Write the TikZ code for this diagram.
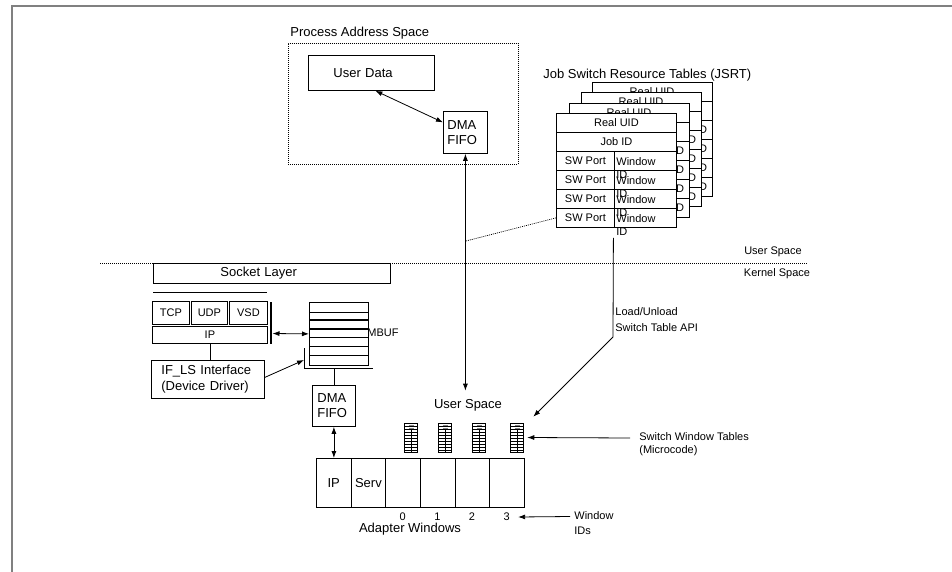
\documentclass[tikz,border=0pt]{standalone}
\usepackage{fontspec}
\setmainfont{Liberation Sans}
\usetikzlibrary{arrows.meta}
\newcommand\fbig{\fontsize{13}{15}\selectfont}
\newcommand\fsmall{\fontsize{11}{13.5}\selectfont}
\begin{document}
\begin{tikzpicture}[x=1pt,y=-1pt,line width=0.8pt,
  box/.style={draw,inner sep=0pt,anchor=north west,font=\fbig},
  txt/.style={inner sep=0pt,font=\fbig},
  stxt/.style={inner sep=0pt,font=\fsmall},
  icon/.style={draw,line width=0.5pt,inner sep=0pt,minimum width=13pt,minimum height=29pt},
  arr/.style={-{Latex[length=7pt,width=5pt]}},
  darr/.style={{Latex[length=7pt,width=5pt]}-{Latex[length=7pt,width=5pt]}},
  dotline/.style={line width=0.7pt,dash pattern=on 1pt off 1pt}]
\useasboundingbox (0,0) rectangle (952,572);
% frame
\draw[line width=2pt,black!50] (12,572) -- (12,6) -- (952,6);

% Process address space
\node[txt,anchor=west] (paslbl) at (290,33) {Process Address Space};
\node[box,dotline,minimum width=230pt,minimum height=121pt] (pas) at (288,43) {};
\node[box,minimum width=126pt,minimum height=35pt,text width=76pt,inner xsep=25pt,align=left] (udata) at (308,55) {User Data};
\node[box,minimum width=44pt,minimum height=42pt,text width=36pt,inner xsep=4pt,align=left] (dma1) at (443,111) {DMA\\FIFO};
\draw[darr] ([xshift=4pt]udata.south) -- ([yshift=10pt]dma1.west);

% lower user space
\node[txt] (us2) at (468,405) {User Space};
\coordinate (ust) at ([yshift=8pt]us2.north);
\draw[darr] (dma1.south) -- (dma1.south |- ust);

% JSRT
\node[txt,anchor=west] (jsrtlbl) at (543,75) {Job Switch Resource Tables (JSRT)};
\foreach \x/\y/\n in {592/82/4,581/92/3,569/103/2}{
  \draw[fill=white] (\x,\y) rectangle ++(120,114);
  \foreach \k in {1,...,5} \draw (\x,{\y+19*\k}) -- ++(120,0);
  \draw ({\x+58},{\y+38}) -- ({\x+58},{\y+114});
  \node[stxt] (b\n-ru) at ({\x+60},{\y+9.5}) {Real UID};
  \node[stxt] (b\n-jid) at ({\x+60},{\y+28.5}) {Job ID};
  \foreach \k in {0,...,3}{
    \node[stxt] (b\n-sw\k) at ({\x+29},{\y+47.5+19*\k}) {SW Port};
    \node[stxt,anchor=east] (b\n-wi\k) at ({\x+115.5},{\y+47.5+19*\k}) {Window ID};
  }
}
\node[box,fill=white,minimum width=120pt,minimum height=114pt] (t1) at (556,113) {};
\node[box,font=\fsmall,minimum width=120pt,minimum height=19pt] (r1) at (556,113) {Real UID};
\node[box,font=\fsmall,minimum width=120pt,minimum height=19pt] (r2) at (556,132) {Job ID};
\foreach \k in {1,...,4}{
  \node[box,font=\fsmall,minimum width=58pt,minimum height=19pt] (sw\k) at (556,{132+19*\k}) {SW Port};
  \node[box,minimum width=62pt,minimum height=19pt] (wc\k) at (614,{132+19*\k}) {};
}
\foreach \k in {1,...,4}
  \node[stxt,anchor=north west,align=left] (wi\k) at (616,{138+19*\k}) {Window\\ID};

% dotted connector
\coordinate (dj) at (466,241);
\draw[dotline] (sw4.west) -- (dj);

% user/kernel
\node[stxt] (uslbl) at (773,252) {User Space};
\node[stxt] (kslbl) at (777,274) {Kernel Space};
\draw[dotline] (100,263) -- (807,263);

% socket side
\node[box,minimum width=237pt,minimum height=20pt,text width=103pt,inner xsep=67pt,align=left] (sock) at (153,263) {Socket Layer};
\draw (153,292) -- (267,292);
\node[box,font=\fsmall,minimum width=37pt,minimum height=23pt] (tcp) at (152,301) {TCP};
\node[box,font=\fsmall,minimum width=36pt,minimum height=23pt] (udp) at (191,301) {UDP};
\node[box,font=\fsmall,minimum width=38pt,minimum height=23pt] (vsd) at (229,301) {VSD};
\node[box,font=\fsmall,minimum width=115pt,minimum height=17pt] (ip1) at (152,326) {IP};
\draw[line width=1.2pt] (271,302) -- (271,344);
\coordinate (vb) at (272.5,333.5);
\node[box,minimum width=59pt,minimum height=63pt] (mbuf) at (309,302) {};
\foreach \yy in {312,337,346,355} \draw (309,\yy) -- (368,\yy);
\foreach \yy in {320,329} \draw[line width=1.3pt] (309,\yy) -- (368,\yy);
\node[stxt,anchor=west] (mbuflbl) at (367,333) {MBUF};
\draw[darr] (vb) -- (mbuf.west);
\draw (304,348) -- (304,368) -- (373,368);
\coordinate (brk) at (304,360);
\coordinate (brb) at (334,368);
\node[box,minimum width=113pt,minimum height=38pt,text width=93pt,inner xsep=10pt,align=left,font=\fontsize{13}{16}\selectfont] (ifls) at (151,360) {IF\_LS Interface\\(Device Driver)};
\draw (ip1.south) -- (ip1.south |- ifls.north);
\draw[arr] ([yshift=2pt]ifls.east) -- (brk);
\node[box,minimum width=43pt,minimum height=41pt,text width=33pt,inner xsep=5pt,align=left] (dma2) at (312,385) {DMA\\FIFO};
\draw (brb) -- (brb |- dma2.north);

% adapter windows
\foreach \i/\t in {0/IP,1/Serv,2/,3/,4/,5/}
  \node[box,minimum width=34.67pt,minimum height=49pt] (aw\i) at ({316+34.67*\i},458) {\t};
\draw[darr] (dma2.south) -- (dma2.south |- aw0.north);
\foreach \i/\n in {2/0,3/1,4/2,5/3}
  \node[stxt] (num\n) at ({316+34.67*\i+17.3},517) {\n};
\node[txt] (awlbl) at (410,529) {Adapter Windows};

% switch window table icons
\foreach \cx [count=\i] in {411,445,479,517}{
  \node[icon] (ic\i) at (\cx,437.5) {};
  \draw[line width=0.4pt] ({\cx-6.5},426.5) -- ++(13,0) ({\cx-6.5},429.5) -- ++(13,0);
  \draw[line width=0.4pt] (\cx,429.5) -- (\cx,452);
  \foreach \yy in {432.5,435.5,438.5,441.5,444.5,447.5,450}
    \draw[line width=0.4pt] ({\cx-6.5},\yy) -- ++(13,0);
  \draw[line width=0.3pt,black!50] ({\cx-2.5},425) -- ++(5,0) ({\cx-2.5},428) -- ++(5,0);
}

% load/unload
\coordinate (lub) at (613,337);
\draw[arr] ([xshift=-3pt,yshift=-10pt]t1.south) -- (lub) -- ([xshift=9.5pt,yshift=6pt]ic4.north east);
\node[stxt,anchor=north west,align=left,font=\fontsize{11}{16}\selectfont] (lulbl) at (615,307) {Load/Unload\\Switch Table API};

% switch window tables label
\node[stxt,anchor=west,align=left,font=\fontsize{11}{12.5}\selectfont] (swtlbl) at (639,444) {Switch Window Tables\\(Microcode)};
\coordinate (swa) at (630,438);
\draw[arr] (swa) -- ([xshift=3.5pt]ic4.east);

% window ids label
\node[stxt,anchor=west,align=left,font=\fontsize{11}{15}\selectfont] (widlbl) at (574,523.5) {Window\\IDs};
\coordinate (wida) at (570,516.5);
\draw[arr] (wida) -- ([xshift=8pt]num3.east);
\end{tikzpicture}
\end{document}
